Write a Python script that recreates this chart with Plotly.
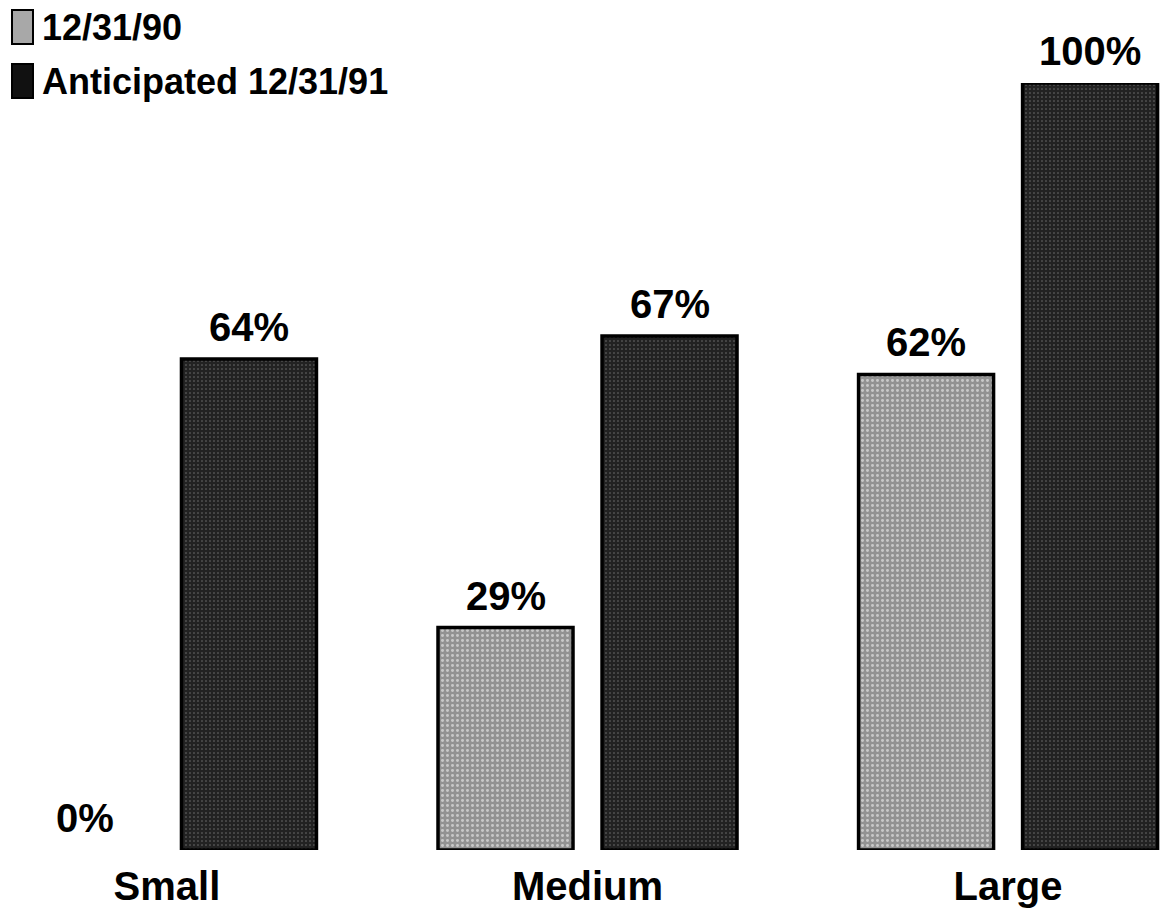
import plotly.graph_objects as go

# Share of firms by size, current vs. anticipated
categories = ["Small", "Medium", "Large"]
series_names = ["12/31/90", "Anticipated 12/31/91"]
values_1990 = [0, 29, 62]
values_1991 = [64, 67, 100]

FONT = "Liberation Sans, Arial, sans-serif"
W, H = 1162, 915
TOP, BOTTOM = 83, 65
BAR_W = 0.321
OFFSETS = [-0.3555, 0.0345]  # left edge of each bar relative to the group centre

fills = [
    dict(color="#a4a4a4", pattern=dict(shape=".", fgcolor="#ffffff", bgcolor="#929292",
                                       size=5, solidity=0.28, fillmode="overlay")),
    dict(color="#2a2a2a", pattern=dict(shape=".", fgcolor="#c4c4c4", bgcolor="#222222",
                                       size=4, solidity=0.12, fillmode="overlay")),
]

x_idx = list(range(len(categories)))
fig = go.Figure()
annotations = []
for vals, name, off, fill in zip([values_1990, values_1991], series_names, OFFSETS, fills):
    fig.add_trace(go.Bar(
        x=x_idx, y=vals, name=name, width=BAR_W, offset=off,
        marker=dict(color=fill["color"], pattern=fill["pattern"],
                    line=dict(color="#000000", width=[0 if v == 0 else 3.5 for v in vals])),
        showlegend=False,
    ))
    for xi, v in zip(x_idx, vals):
        annotations.append(dict(
            x=xi + off + BAR_W / 2, y=v, xref="x", yref="y",
            text=f"{v}%", showarrow=False, yanchor="bottom", yshift=8,
            font=dict(family=FONT, size=40, color="#000000", weight="bold"),
        ))

# Legend drawn as swatches plus text in the top-left corner (pixel rows -> paper coords)
plot_h = H - TOP - BOTTOM


def py(px_y):
    return (H - BOTTOM - px_y) / plot_h


legend_rows = [(series_names[0], 27, "#a8a8a8"), (series_names[1], 81, "#111111")]
shapes = []
for label, yc, col in legend_rows:
    shapes.append(dict(type="rect", xref="paper", yref="paper",
                       x0=12 / W, x1=33 / W, y0=py(yc + 17), y1=py(yc - 17),
                       fillcolor=col, line=dict(color="#000000", width=2), layer="above"))
    annotations.append(dict(x=40 / W, y=py(yc), xref="paper", yref="paper",
                            xanchor="left", yanchor="middle", showarrow=False,
                            text=label,
                            font=dict(family=FONT, size=36, color="#000000", weight="bold")))

fig.update_layout(
    width=W, height=H,
    margin=dict(l=0, r=0, t=TOP, b=BOTTOM, pad=0),
    paper_bgcolor="#ffffff", plot_bgcolor="#ffffff",
    barmode="overlay",
    annotations=annotations,
    shapes=shapes,
    xaxis=dict(range=[-0.397, 2.366], tickvals=x_idx, ticktext=categories,
               showgrid=False, zeroline=False, showline=False, ticks="",
               tickfont=dict(family=FONT, size=40, color="#000000", weight="bold"),
               ticklabelstandoff=9, fixedrange=True),
    yaxis=dict(range=[0, 100], visible=False, fixedrange=True),
    showlegend=False,
)

fig.write_html("out.html")
